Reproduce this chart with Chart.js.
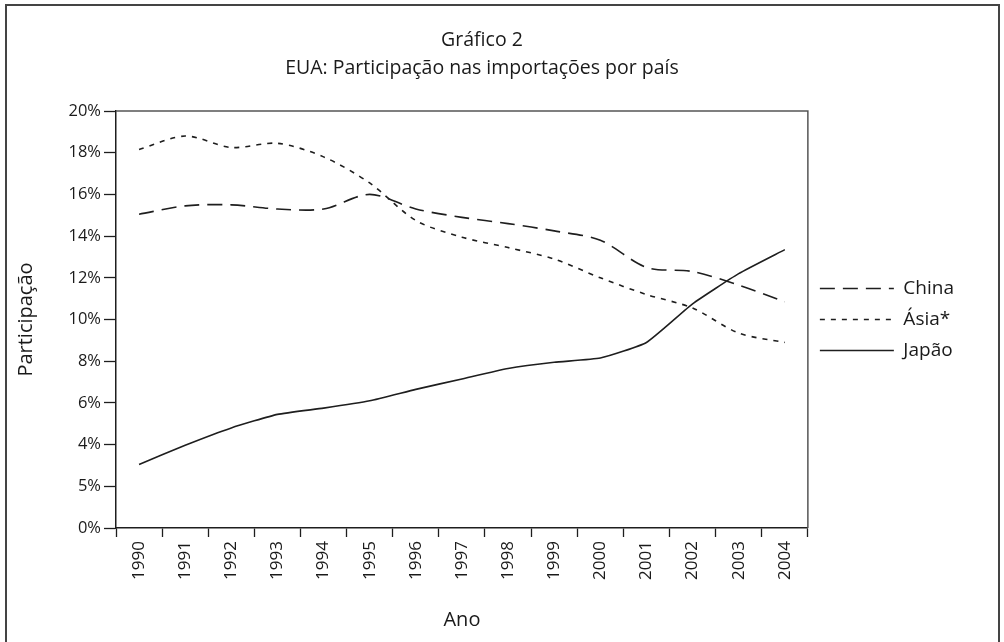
<!DOCTYPE html>
<head>
  <title></title>
  <style>
   * {
     margin: 0;
     padding: 0;
     box-sizing: border-box;
   }
   body {
     width: 1004px;
     height: 642px;
     overflow: hidden;
     background: #fff;
     position: relative;
   }
   #frame {
     position: absolute;
     left: 5px;
     top: 4px;
     width: 995px;
     height: 700px;
     border: 2px solid #444;
     pointer-events: none;
   }
   #chartBox {
     position: absolute;
     left: 0;
     top: 0;
     width: 1004px;
     height: 642px;
   }
  </style>
</head>
<body>
<div id="chartBox">
  <canvas id="myChartLine"></canvas>
</div>
<div id="frame"></div>
<script src="https://cdn.jsdelivr.net/npm/chart.js"></script>

<script>

	// data
	const years = ['1990','1991','1992','1993','1994','1995','1996','1997','1998','1999','2000','2001','2002','2003','2004']
	const china = [15.05, 15.45, 15.5, 15.3, 15.3, 16.0, 15.3, 14.9, 14.6, 14.25, 13.8, 12.5, 12.3, 11.65, 10.85]
	const asia = [18.15, 18.8, 18.25, 18.45, 17.8, 16.55, 14.75, 13.95, 13.45, 12.9, 12.0, 11.2, 10.55, 9.35, 8.9]
	const japao = [3.05, 3.97, 4.8, 5.45, 5.75, 6.1, 6.65, 7.15, 7.65, 7.95, 8.15, 8.9, 10.75, 12.2, 13.35]
	// tick labels as printed (the 2% mark reads "5%")
	const yTickLabels = ['0%','5%','4%','6%','8%','10%','12%','14%','16%','18%','20%']

	const ink = '#1e1e1e'
	Chart.defaults.font.family = "'Open Sans', 'Liberation Sans', sans-serif"
	Chart.defaults.color = '#1a1a1a'

	// top and right edge of the plot box
	const plotBox = {
		id: 'plotBox',
		afterDraw(chart) {
			const a = chart.chartArea
			const ctx = chart.ctx
			ctx.save()
			ctx.strokeStyle = '#555'
			ctx.lineWidth = 1.5
			ctx.beginPath()
			ctx.moveTo(a.left, a.top)
			ctx.lineTo(a.right, a.top)
			ctx.lineTo(a.right, a.bottom)
			ctx.stroke()
			ctx.restore()
		}
	}

	new Chart(
	    document.getElementById('myChartLine'),
	    {
	      type: 'line',
	      data: {
	        labels: years,
	        datasets: [
	        {
	           label: 'China',
	           data: china,
	           borderColor: ink,
	           borderWidth: 1.6,
	           borderDash: [15, 8],
	           tension: 0.3,
	           pointRadius: 0
	        },
	        {
	           label: 'Ásia*',
	           data: asia,
	           borderColor: ink,
	           borderWidth: 1.6,
	           borderDash: [5, 6],
	           tension: 0.3,
	           pointRadius: 0
	        },
	        {
	           label: 'Japão',
	           data: japao,
	           borderColor: ink,
	           borderWidth: 1.6,
	           tension: 0.15,
	           pointRadius: 0
	        }
	        ]
	      },
	      options: {
	          responsive: true,
	          maintainAspectRatio: false,
	          animation: false,
	          layout: {
	              padding: { left: 0, right: 40, top: 0, bottom: 0 }
	          },
	          scales: {
	          		x: {
	          			offset: true,
	          			grid: {
	          				offset: true,
	          				drawOnChartArea: false,
	          				tickLength: 9,
	          				tickColor: ink,
	          				tickWidth: 1.3
	          			},
	          			border: { color: ink, width: 1.5 },
	          			ticks: {
	          				autoSkip: false,
	          				minRotation: 90,
	          				maxRotation: 90,
	          				padding: 4,
	          				font: { size: 17 }
	          			},
	          			title: {
	          				 display: true,
	          				 text: 'Ano',
	          				 font: { size: 20 },
	          				 padding: { top: 4, bottom: 10 }
	          			},
	          			afterFit: function (scale) { scale.height = 114 }
	          		},
	          		y: {
	          			min: 0,
	          			max: 20,
	          			grid: {
	          				drawOnChartArea: false,
	          				tickLength: 12,
	          				tickColor: ink,
	          				tickWidth: 1.3
	          			},
	          			border: { color: ink, width: 1.5 },
	          			ticks: {
	          				stepSize: 2,
	          				padding: 3,
	          				font: { size: 16.5 },
	          				callback: function (v) { return yTickLabels[Math.round(v / 2)] }
	          			},
	          			title: {
	          				display: true,
	          				text: 'Participação',
	          				font: { size: 20 },
	          				padding: { top: 14, bottom: 0 }
	          			},
	          			afterFit: function (scale) { scale.width = 116 }
	          		}
	          },
	          plugins: {
	              title: {
	                  display: true,
	                  text: ['Gráfico 2', 'EUA: Participação nas importações por país'],
	                  font: { size: 19.5, weight: 'normal', lineHeight: 1.436 },
	                  padding: { top: 26, bottom: 29 }
	              },
	              legend: {
	                  position: 'right',
	                  fullSize: false,
	                  labels: {
	                      usePointStyle: true,
	                      pointStyle: 'line',
	                      pointStyleWidth: 74,
	                      boxWidth: 74,
	                      padding: 12,
	                      font: { size: 19 },
	                      // keep each series' dash pattern in the legend
	                      generateLabels: function (chart) {
	                          const items = Chart.defaults.plugins.legend.labels.generateLabels(chart)
	                          items.forEach(item => {
	                              const ds = chart.data.datasets[item.datasetIndex]
	                              item.lineDash = ds.borderDash || []
	                              item.lineWidth = ds.borderWidth
	                              item.strokeStyle = ds.borderColor
	                          })
	                          return items
	                      }
	                  }
	              },
	              tooltip: { enabled: false }
	          }
	      },
	      plugins: [plotBox]
	    }
	  );

</script>

</body>
</html>
